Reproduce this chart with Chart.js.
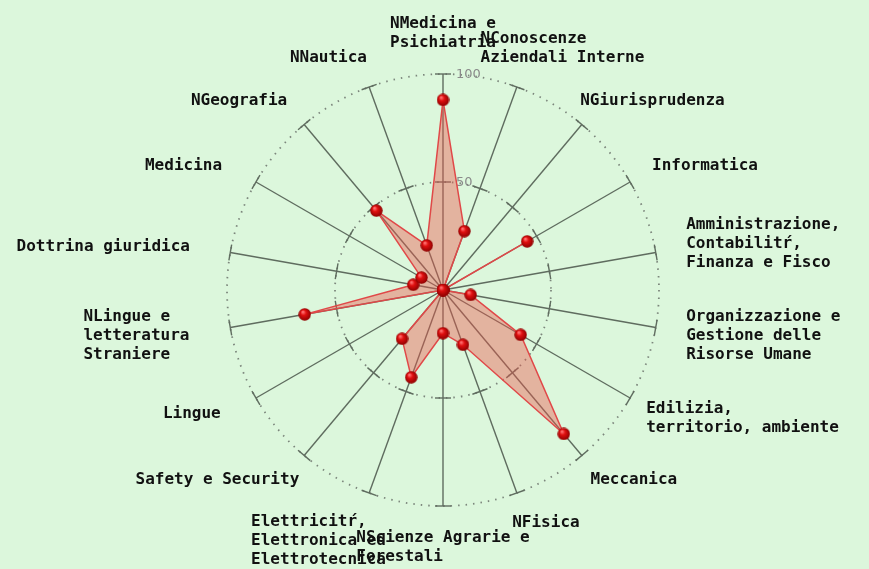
<!DOCTYPE html>
<html>
<head>
<meta charset="utf-8">
<script src="https://cdn.jsdelivr.net/npm/chart.js@4"></script>
<style>
html,body{margin:0;padding:0;background:#dcf7dc;}
#wrap{width:869px;height:569px;position:relative;}
</style>
</head>
<body>
<div id="wrap"><canvas id="c" width="869" height="569"></canvas></div>
<script>
const categories = [
  ["NMedicina e", "Psichiatria"],
  ["NConoscenze", "Aziendali Interne"],
  ["NGiurisprudenza"],
  ["Informatica"],
  ["Amministrazione,", "Contabilitŕ,", "Finanza e Fisco"],
  ["Organizzazione e", "Gestione delle", "Risorse Umane"],
  ["Edilizia,", "territorio, ambiente"],
  ["Meccanica"],
  ["NFisica"],
  ["NScienze Agrarie e", "Forestali"],
  ["Elettricitŕ,", "Elettronica ed", "Elettrotecnica"],
  ["Safety e Security"],
  ["Lingue"],
  ["NLingue e", "letteratura", "Straniere"],
  ["Dottrina giuridica"],
  ["Medicina"],
  ["NGeografia"],
  ["NNautica"]
];
const values = [88, 29, 0, 45, 0, 13, 41.5, 87, 27, 20, 43, 29.5, 0, 65, 14, 11.5, 48, 22];
const tickLabels = [50, 100];

function sphere(size) {
  const c = document.createElement('canvas');
  c.width = size; c.height = size;
  const g = c.getContext('2d');
  const r = size / 2;
  const grad = g.createRadialGradient(r * 0.7, r * 0.6, r * 0.1, r, r, r);
  grad.addColorStop(0, '#ff7070');
  grad.addColorStop(0.35, '#e01010');
  grad.addColorStop(1, '#8a0000');
  g.fillStyle = grad;
  g.beginPath(); g.arc(r, r, r - 0.3, 0, Math.PI * 2); g.fill();
  return c;
}
const ball = sphere(13);

const LABEL_FONT = 'bold 16px "DejaVu Sans Mono"';
const LINE_H = 19;

const extras = {
  id: 'extras',
  beforeDatasetsDraw(chart) {
    const s = chart.scales.r;
    const ctx = chart.ctx;
    ctx.save();
    ctx.strokeStyle = '#5f6c5f';
    ctx.lineWidth = 1.4;
    const n = categories.length;
    tickLabels.forEach(v => {
      const d = s.getDistanceFromCenterForValue(v);
      for (let i = 0; i < n; i++) {
        const p = s.getPointPosition(i, d);
        const a = p.angle;
        const px = -Math.sin(a) * 8, py = Math.cos(a) * 8;
        ctx.beginPath();
        ctx.moveTo(p.x - px, p.y - py);
        ctx.lineTo(p.x + px, p.y + py);
        ctx.stroke();
      }
    });
    ctx.fillStyle = '#8a8a8a';
    ctx.font = '13px "DejaVu Sans"';
    ctx.textAlign = 'left';
    ctx.textBaseline = 'middle';
    tickLabels.forEach(v => {
      const d = s.getDistanceFromCenterForValue(v);
      ctx.fillText(String(v), s.xCenter + 13, s.yCenter - d + 1);
    });
    ctx.restore();
  },
  afterDraw(chart) {
    const s = chart.scales.r;
    const ctx = chart.ctx;
    ctx.save();
    ctx.font = LABEL_FONT;
    ctx.fillStyle = '#111';
    ctx.textAlign = 'left';
    ctx.textBaseline = 'middle';
    const R = s.drawingArea + 22;
    categories.forEach((lines, i) => {
      const p = s.getPointPosition(i, R);
      const ang = (i / categories.length) * Math.PI * 2;
      const sn = Math.sin(ang), cs = Math.cos(ang);
      const w = Math.max(...lines.map(t => ctx.measureText(t).width));
      const h = lines.length * LINE_H;
      let cx = p.x + (w / 2) * sn;
      if (sn > 0.05) cx += 10; else if (sn < -0.05) cx -= 20;
      const cy = p.y - (h / 2) * cs;
      const left = cx - w / 2, top = cy - h / 2;
      lines.forEach((t, k) => ctx.fillText(t, left, top + LINE_H * k + LINE_H / 2));
    });
    ctx.restore();
  }
};

new Chart(document.getElementById('c'), {
  type: 'radar',
  data: {
    labels: categories,
    datasets: [{
      data: values,
      backgroundColor: 'rgba(235,85,75,0.42)',
      borderColor: '#e04848',
      borderWidth: 1.5,
      pointStyle: ball,
      pointRadius: 6.5,
      pointHoverRadius: 6.5
    }]
  },
  options: {
    responsive: false,
    animation: false,
    plugins: { legend: { display: false }, tooltip: { enabled: false } },
    layout: { padding: { top: 74, bottom: 63, left: 227, right: 210 } },
    scales: {
      r: {
        min: 0, max: 100,
        ticks: { stepSize: 50, display: false },
        grid: { circular: true, color: '#7c867c', lineWidth: 1.8 },
        border: { dash: [1.5, 6] },
        angleLines: { color: '#5f6c5f', lineWidth: 1.4 },
        pointLabels: { display: false }
      }
    }
  },
  plugins: [extras]
});
</script>
</body>
</html>
